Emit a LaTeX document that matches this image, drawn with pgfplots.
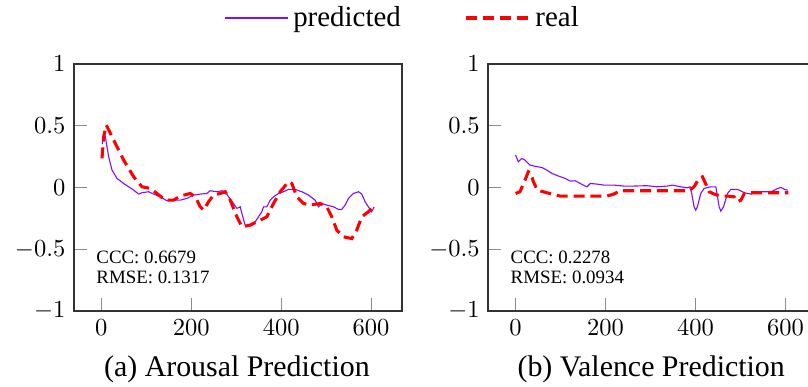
\documentclass[border=0pt]{standalone}
\usepackage{fontspec}
\setmainfont{Liberation Serif}
\usepackage{pgfplots}
\pgfplotsset{compat=1.18}
\definecolor{predcol}{rgb}{0.5,0.05,1}
\pgfplotsset{
  myaxis/.style={
    scale only axis, width=133.9pt, height=100.8pt,
    xmin=-60.8, xmax=668.8, ymin=-1, ymax=1,
    xtick={0,200,400,600}, ytick={-1,-0.5,0,0.5,1},
    xtick pos=left, ytick pos=left,
    major tick length=5.3pt,
    axis line style={line width=0.7pt, black!80},
    every tick/.style={black!45, line width=0.4pt},
    tick label style={font=\fontsize{10}{12}\selectfont},
  },
  predstyle/.style={predcol, line width=0.45pt},
  realstyle/.style={red, line width=1.25pt, dash pattern=on 4.5pt off 2.4pt},
}
\begin{document}
\begin{tikzpicture}
\begin{axis}[myaxis, at={(0pt,0pt)}, anchor=south west,
  legend style={at={(axis description cs:1.006,1.186)}, anchor=center, draw=none, fill=none,
    font=\fontsize{11.8}{14}\selectfont, legend columns=2,
    /tikz/every even column/.append style={column sep=24pt}},
  legend image code/.code={\draw[#1] (0pt,0pt) -- (25.7pt,0pt);},
]
\addplot[predstyle] coordinates {
(2,0.35) (5.2,0.438) (8.9,0.41) (16.3,0.249) (23.7,0.141) (34.8,0.073) (49.6,0.032) (71.9,-0.022) (83,-0.054) (90.4,-0.043) (105.2,-0.035) (116.3,-0.054) (131.1,-0.076) (145.9,-0.108) (160.7,-0.103) (175.6,-0.103) (190.4,-0.089) (205.2,-0.062) (220,-0.054) (234.8,-0.049) (242.2,-0.027) (257,-0.035) (268.1,-0.027) (275.6,-0.035) (283,-0.076) (294,-0.130) (301.5,-0.170) (308.9,-0.157) (312.6,-0.211) (320,-0.305) (327.4,-0.314) (334.8,-0.305) (342.2,-0.278) (349.6,-0.238) (357,-0.197) (360.7,-0.157) (368.1,-0.157) (375.6,-0.103) (383,-0.076) (394.1,-0.049) (405.2,-0.035) (416.3,-0.016) (431.1,-0.016) (445.9,-0.035) (460.7,-0.062) (475.6,-0.103) (483,-0.157) (490.4,-0.130) (501.5,-0.143) (516.3,-0.157) (527.4,-0.178) (534.8,-0.178) (542.2,-0.143) (549.6,-0.089) (560.7,-0.049) (572,-0.035) (579.3,-0.054) (586.7,-0.116) (594,-0.157) (601.5,-0.197) (606.7,-0.157)
};
\addlegendentry{predicted}
\addplot[realstyle] coordinates {
(1.5,0.235) (5.2,0.41) (11.1,0.505) (27.4,0.384) (49.6,0.222) (71.9,0.086) (90.4,0.005) (108.9,-0.008) (123.7,-0.049) (142.2,-0.103) (160.7,-0.103) (175.6,-0.070) (197.8,-0.049) (208.9,-0.076) (220,-0.157) (227.4,-0.184) (238.5,-0.116) (249.6,-0.062) (264.4,-0.049) (275.6,-0.035) (286.7,-0.103) (301.5,-0.238) (312.6,-0.319) (331.1,-0.305) (353.3,-0.265) (368.1,-0.238) (383,-0.130) (397.8,-0.035) (416.3,0.046) (423.7,0.032) (434.8,-0.076) (449.6,-0.130) (464.4,-0.143) (486.7,-0.130) (501.5,-0.157) (512.6,-0.238) (523.7,-0.346) (538.5,-0.4) (557,-0.414) (568.1,-0.346) (579.3,-0.238) (594,-0.197) (605.2,-0.157)
};
\addlegendentry{real}
\node[anchor=base west, inner sep=0pt, font=\fontsize{7.7}{9}\selectfont] at (axis description cs:0.067,0.193) {CCC: 0.6679};
\node[anchor=base west, inner sep=0pt, font=\fontsize{7.7}{9}\selectfont] at (axis description cs:0.067,0.112) {RMSE: 0.1317};
\end{axis}
\begin{axis}[myaxis, at={(169.1pt,0pt)}, anchor=south west]
\addplot[predstyle] coordinates {
(0,0.262) (6,0.208) (13.4,0.235) (20.8,0.222) (32,0.181) (46.9,0.168) (58.1,0.162) (69.2,0.141) (80.4,0.114) (95.3,0.092) (110.2,0.073) (121.4,0.051) (132.5,0.054) (143.7,0.032) (154.9,0.011) (158.6,0.005) (166,0.032) (181,0.027) (195.8,0.019) (218.2,0.019) (240.5,0.011) (262.8,0.011) (292.6,0.014) (315,0.005) (337.3,0.011) (348.5,0.019) (367.1,0.005) (382,-0.003) (388,0.005) (391.7,-0.049) (396.9,-0.157) (400.6,-0.184) (404.3,-0.157) (411.8,-0.049) (419.2,-0.008) (434.1,0.005) (445.3,0.005) (449,-0.076) (452.7,-0.157) (456.4,-0.192) (462.4,-0.157) (471.3,-0.049) (478.8,-0.016) (493.7,-0.016) (508.6,-0.043) (523.5,-0.054) (538.3,-0.035) (553.2,-0.035) (568.1,-0.035) (583,-0.008) (590.5,0) (597.9,-0.016) (605.4,-0.022)
};
\addplot[realstyle] coordinates {
(0,-0.049) (9.7,-0.035) (20.8,0.059) (28.3,0.127) (33.5,0.119) (39.5,0.046) (48.4,-0.022) (69.2,-0.043) (99,-0.070) (128.8,-0.070) (166,-0.070) (203.3,-0.070) (218.2,-0.054) (233.1,-0.027) (270.3,-0.027) (315,-0.027) (352.2,-0.027) (385.7,-0.027) (396.9,0.005) (408,0.073) (415.5,0.086) (420.7,0.046) (430.4,-0.035) (441.6,-0.054) (456.4,-0.070) (471.3,-0.070) (486.2,-0.076) (493.7,-0.116) (501.1,-0.103) (508.6,-0.049) (523.5,-0.043) (553.2,-0.043) (575.6,-0.043) (606.9,-0.043)
};
\node[anchor=base west, inner sep=0pt, font=\fontsize{7.7}{9}\selectfont] at (axis description cs:0.067,0.193) {CCC: 0.2278};
\node[anchor=base west, inner sep=0pt, font=\fontsize{7.7}{9}\selectfont] at (axis description cs:0.067,0.112) {RMSE: 0.0934};
\end{axis}
\node[anchor=base, font=\fontsize{12.2}{14}\selectfont] at (66.5pt,-26.9pt) {(a) Arousal Prediction};
\node[anchor=base, font=\fontsize{12.2}{14}\selectfont] at (235.6pt,-26.9pt) {(b) Valence Prediction};
\pgfresetboundingbox
\path[use as bounding box] (-30.2pt,-31.0pt) rectangle (299.6pt,126.9pt);
\end{tikzpicture}
\end{document}
